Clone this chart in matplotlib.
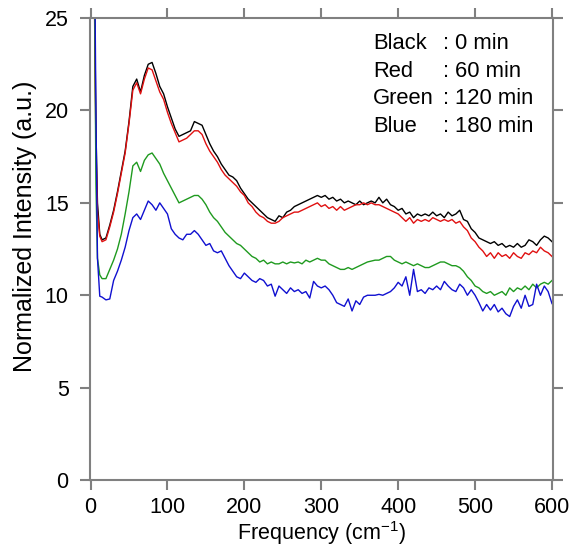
import matplotlib
matplotlib.use("Agg")
import matplotlib.pyplot as plt

plt.rcParams["font.family"] = ["Liberation Sans", "DejaVu Sans"]
plt.rcParams["mathtext.default"] = "regular"

# frequency grid (cm-1) shared by all four spectra
freq = [5, 7, 9, 12, 15] + list(range(20, 601, 5))

black_0min = [
    27, 19, 15, 13.3, 13.0,
    13.1, 13.8, 14.6, 15.6, 16.7, 17.8, 19.4, 21.3, 21.7, 21.0,
    21.9, 22.5, 22.6, 22.0, 21.3, 20.9, 20.2, 19.6, 19.0, 18.6,
    18.7, 18.8, 18.9, 19.4, 19.3, 19.2, 18.7, 18.2, 17.8, 17.5,
    17.1, 16.8, 16.5, 16.4, 16.2, 15.8, 15.5, 15.2, 15.0, 14.8,
    14.6, 14.4, 14.2, 14.1, 14.0, 14.3, 14.2, 14.5, 14.6, 14.8,
    14.9, 15.0, 15.1, 15.2, 15.3, 15.4, 15.3, 15.4, 15.2, 15.3,
    15.1, 15.2, 15.0, 15.1, 15.0, 14.9, 15.1, 14.9, 15.0, 15.1,
    15.0, 15.3, 15.0, 15.2, 14.9, 14.8, 14.6, 14.7, 14.4, 14.5,
    14.2, 14.4, 14.3, 14.4, 14.3, 14.5, 14.3, 14.4, 14.2, 14.5,
    14.3, 14.4, 14.6, 14.1, 14.0, 13.6, 13.4, 13.1, 13.0, 12.9,
    12.8, 12.9, 12.7, 12.8, 12.6, 12.7, 12.6, 12.8, 12.6, 12.7,
    13.0, 12.9, 12.7, 13.0, 13.2, 13.1, 12.9,
]

red_60min = [
    26, 18, 14.5, 13.2, 12.9,
    13.0, 13.7, 14.5, 15.5, 16.6, 17.7, 19.3, 21.1, 21.5, 20.9,
    21.7, 22.3, 22.2, 21.6, 21.0, 20.6, 19.9, 19.3, 18.8, 18.3,
    18.4, 18.5, 18.7, 18.9, 18.9, 18.7, 18.2, 17.8, 17.5, 17.2,
    16.8, 16.5, 16.3, 16.1, 15.9, 15.6, 15.4, 15.0, 14.8, 14.5,
    14.3, 14.2, 14.0, 13.9, 13.9, 14.0, 14.2, 14.3, 14.4, 14.5,
    14.5, 14.6, 14.7, 14.8, 14.9, 15.0, 14.8, 14.9, 14.7, 14.8,
    14.6, 14.8, 14.6, 14.7, 14.8, 14.9, 14.9, 15.0, 14.9, 15.0,
    14.9, 14.9, 14.8, 14.7, 14.6, 14.5, 14.4, 14.2, 14.0, 14.2,
    13.9, 14.1, 14.0, 14.1, 14.0, 14.2, 14.1, 14.0, 14.1, 14.0,
    14.1, 13.9, 14.0, 13.7, 13.5, 13.1, 12.9, 12.6, 12.4, 12.1,
    12.3, 12.0, 12.3, 12.1, 12.2, 12.0, 12.3, 12.1, 12.0, 12.3,
    12.2, 12.4, 12.3, 12.6, 12.4, 12.3, 12.1,
]

green_120min = [
    28, 16, 12, 11.1, 10.9,
    10.9, 11.4, 11.9, 12.5, 13.3, 14.4, 15.6, 17.0, 17.2, 16.7,
    17.3, 17.6, 17.7, 17.4, 17.1, 16.6, 16.2, 15.8, 15.4, 15.0,
    15.1, 15.2, 15.3, 15.4, 15.4, 15.2, 14.9, 14.5, 14.2, 14.0,
    13.7, 13.4, 13.2, 13.0, 12.8, 12.7, 12.5, 12.3, 12.1, 12.0,
    11.8, 11.9, 11.7, 11.8, 11.7, 11.7, 11.8, 11.7, 11.8, 11.75,
    11.8, 11.7, 11.9, 11.8, 11.9, 12.0, 11.9, 11.9, 11.7, 11.6,
    11.5, 11.4, 11.4, 11.5, 11.4, 11.5, 11.6, 11.7, 11.8, 11.85,
    11.9, 11.9, 12.0, 12.1, 12.1, 11.9, 11.8, 11.7, 11.8, 11.7,
    11.6, 11.7, 11.6, 11.5, 11.5, 11.6, 11.7, 11.8, 11.8, 11.7,
    11.6, 11.6, 11.5, 11.3, 11.0, 10.8, 10.5, 10.4, 10.2, 10.1,
    10.2, 10.0, 10.1, 10.2, 10.0, 10.4, 10.2, 10.4, 10.3, 10.5,
    10.3, 10.6, 10.4, 10.6, 10.7, 10.6, 10.8,
]

blue_180min = [
    30, 20, 12, 9.95, 9.9,
    9.75, 9.8, 10.8, 11.3, 11.9, 12.6, 13.5, 14.2, 14.4, 14.1,
    14.6, 15.1, 14.9, 14.6, 15.0, 14.7, 14.4, 13.6, 13.3, 13.1,
    13.0, 13.3, 13.3, 13.5, 13.3, 13.0, 12.7, 12.8, 12.4, 12.3,
    12.4, 12.0, 11.6, 11.3, 11.0, 10.9, 11.2, 11.0, 10.8, 10.7,
    10.9, 10.8, 10.5, 10.6, 9.95, 10.5, 10.3, 10.1, 10.4, 10.2,
    10.3, 10.1, 10.2, 9.85, 10.75, 10.5, 10.4, 10.5, 10.3, 10.0,
    9.6, 9.5, 9.4, 9.8, 9.15, 9.7, 9.5, 9.9, 10.0, 10.0,
    10.0, 10.05, 10.0, 10.1, 10.2, 10.4, 10.7, 10.5, 11.0, 10.0,
    11.4, 10.2, 10.3, 10.1, 10.4, 10.3, 10.5, 10.3, 10.75, 10.5,
    10.3, 10.2, 10.6, 10.4, 10.0, 10.3, 10.0, 9.6, 9.15, 9.5,
    9.2, 9.5, 9.1, 9.3, 9.0, 8.85, 9.4, 9.75, 9.3, 10.0,
    9.4, 9.5, 10.6, 10.0, 10.5, 10.2, 9.55,
]

legend_names = ["Black", "Red", "Green", "Blue"]
legend_times = ["0 min", "60 min", "120 min", "180 min"]

fig = plt.figure(figsize=(5.74, 5.48), dpi=100)
ax = fig.add_axes([0.156, 0.124, 0.807, 0.843])

ax.plot(freq, black_0min, color="black", lw=1.0)
ax.plot(freq, red_60min, color="#e01010", lw=1.0)
ax.plot(freq, green_120min, color="#1f9a1f", lw=1.0)
ax.plot(freq, blue_180min, color="#1010d0", lw=1.0)

ax.set_xlim(-1.3, 601)
ax.set_ylim(0, 25)
ax.set_xticks(range(0, 601, 100))
ax.set_yticks(range(0, 26, 5))

for side in ("left", "right", "top", "bottom"):
    ax.spines[side].set_color("#808080")
    ax.spines[side].set_linewidth(1.5)
ax.tick_params(axis="both", which="both", direction="out", length=7,
               width=1.5, color="#808080", labelsize=15.5,
               top=True, right=True, labeltop=False, labelright=False)
ax.tick_params(axis="y", pad=8)
ax.tick_params(axis="x", pad=5)

ax.set_xlabel("Frequency (cm$^{-1}$)", fontsize=15.5, labelpad=1)
ax.set_ylabel("Normalized Intensity (a.u.)", fontsize=18)
ax.yaxis.set_label_coords(-0.113, 0.55)

# annotation block with aligned colons
rows_y = [0.944, 0.885, 0.825, 0.766]
for yy, name, t in zip(rows_y, legend_names, legend_times):
    ax.text(0.612, yy, name, transform=ax.transAxes, fontsize=15.8, va="center")
    ax.text(0.762, yy, ":", transform=ax.transAxes, fontsize=15.8, va="center")
    ax.text(0.789, yy, t, transform=ax.transAxes, fontsize=15.8, va="center")

fig.savefig("out.png", dpi=100)
plt.close(fig)
